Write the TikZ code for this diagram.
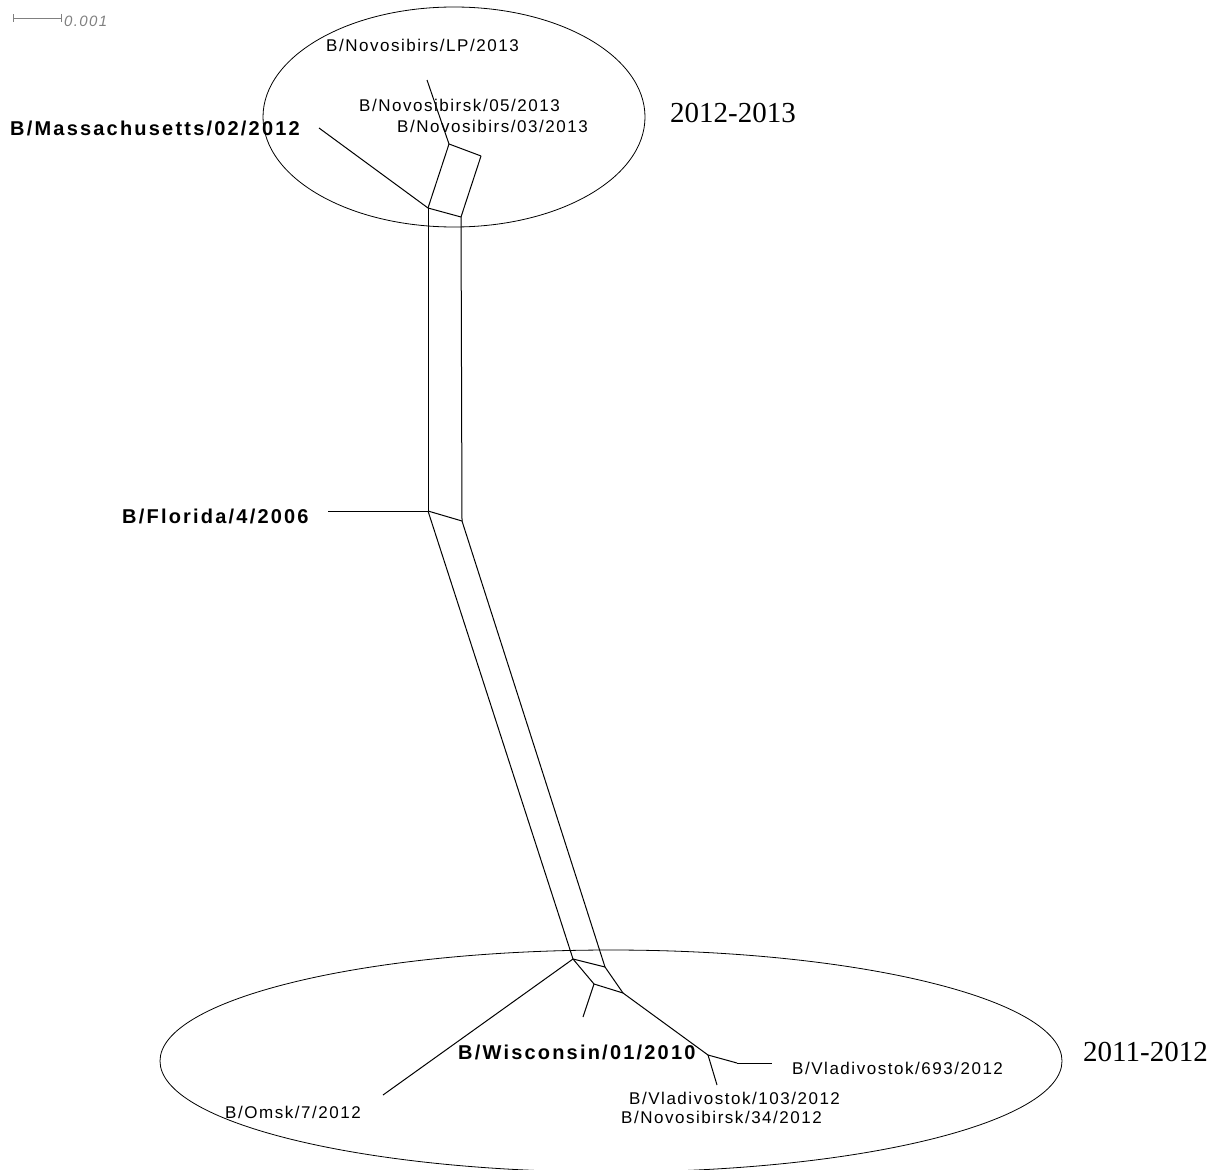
\documentclass[tikz,border=0pt]{standalone}
\usepackage{fontspec}
\setmainfont{Liberation Sans}
\newfontfamily\yearfont{Liberation Serif}
\newfontfamily\strainfont[LetterSpace=9]{Liberation Sans}
\newfontfamily\reffont[LetterSpace=11]{Liberation Sans}
\usetikzlibrary{arrows.meta, positioning}

\tikzset{
  strain/.style={font=\strainfont\fontsize{17}{19}\selectfont, inner sep=0pt, anchor=west},
  refstrain/.style={font=\reffont\bfseries\fontsize{20}{22}\selectfont, inner sep=0pt, anchor=west},
  season/.style={font=\yearfont\fontsize{29}{31}\selectfont, inner sep=0pt, anchor=west},
  edge/.style={line width=1pt},
  cluster/.style={line width=0.8pt}
}

\begin{document}
\begin{tikzpicture}[x=1pt, y=-1pt]
  \useasboundingbox (0,0) rectangle (1230,1169);

  % scale bar
  \coordinate (s0) at (13,18);
  \coordinate (s1) at (62,18);
  \draw[gray, line width=0.8pt, {Bar[width=8pt]}-{Bar[width=8pt]}] (s0) -- (s1);
  \node[font=\strainfont\itshape\fontsize{15}{17}\selectfont, text=gray, inner sep=0pt, anchor=west] (scale) at (64,21) {0.001};

  % season clusters
  \draw[cluster] (454,117) ellipse [x radius=191, y radius=110];
  \draw[cluster] (611,1061) ellipse [x radius=451, y radius=111];
  \node[season] (s1213) at (670,113) {2012-2013};
  \node[season] (s1112) at (1083,1052) {2011-2012};

  % network vertices
  \coordinate (ma) at (428,208);
  \coordinate (mb) at (461,217);
  \coordinate (c) at (449,144);
  \coordinate (d) at (481,156);
  \coordinate (lp) at (427,80);
  \coordinate (mass) at (319,128);
  \coordinate (fa) at (428,511);
  \coordinate (fb) at (462,521);
  \coordinate (flo) at (328,511);
  \coordinate (wa) at (573,959);
  \coordinate (wb) at (605,967);
  \coordinate (x) at (594,984);
  \coordinate (y) at (623,993);
  \coordinate (wis) at (583,1017);
  \coordinate (omsk) at (383,1095);
  \coordinate (z) at (708,1055);
  \coordinate (z1) at (737,1063);
  \coordinate (v693) at (772,1063);
  \coordinate (v103) at (717,1085);

  % network edges
  \foreach \a/\b in {ma/mb, ma/c, mb/d, c/d, c/lp, ma/mass, ma/fa, mb/fb, fa/fb, fa/flo,
                     fa/wa, fb/wb, wa/wb, wa/omsk, wa/x, wb/y, x/y, x/wis, y/z, z/z1, z1/v693, z/v103} {
      \draw[edge] (\a) -- (\b);
    }

  % strain labels
  \node[strain] (nlp) at (326,45) {B/Novosibirs/LP/2013};
  \node[strain] (n05) at (359,105) {B/Novosibirsk/05/2013};
  \node[strain] (n03) at (397,126) {B/Novosibirs/03/2013};
  \node[refstrain] (nmass) at (10,128) {B/Massachusetts/02/2012};
  \node[refstrain] (nflo) at (122,516) {B/Florida/4/2006};
  \node[refstrain] (nwis) at (458,1052) {B/Wisconsin/01/2010};
  \node[strain] (n693) at (792,1068) {B/Vladivostok/693/2012};
  \node[strain] (n103) at (629,1098) {B/Vladivostok/103/2012};
  \node[strain] (n34) at (621,1117) {B/Novosibirsk/34/2012};
  \node[strain] (nomsk) at (225,1112) {B/Omsk/7/2012};
\end{tikzpicture}
\end{document}
